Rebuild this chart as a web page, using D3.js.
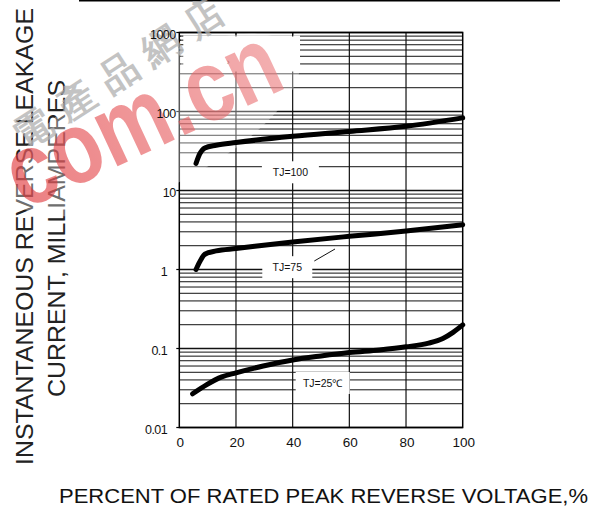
<!DOCTYPE html>
<html>
<head>
<meta charset="utf-8">
<script src="https://cdn.jsdelivr.net/npm/d3@7/dist/d3.min.js"></script>
<style>
body { margin: 0; background: #fff; }
text { font-family: "Liberation Sans", Arial, sans-serif; }
</style>
</head>
<body>
<div id="chart"></div>
<script>
// curve data (x = % of rated peak reverse voltage, y = mA)
var pct100 = [5.9, 7.2, 9, 13, 20, 40, 60, 80, 100],
    tj100 = [22, 29, 34.5, 37.4, 40.5, 48.5, 56, 65, 83];
var pct75 = [5.9, 7.2, 9, 13, 20, 40, 60, 80, 100],
    tj75 = [1.0, 1.25, 1.56, 1.72, 1.84, 2.23, 2.63, 3.07, 3.69];
var pct25 = [4.7, 9.7, 15, 20, 29.6, 40, 50, 60, 70.6, 80, 88, 93, 96.6, 100],
    tj25 = [0.0267, 0.0349, 0.0437, 0.0492, 0.06, 0.0716, 0.0805, 0.089, 0.096, 0.105, 0.117, 0.134, 0.16, 0.199];

var xTicks = [0, 20, 40, 60, 80, 100];
var yTicks = [0.01, 0.1, 1, 10, 100, 1000];
var yTickLabels = ["0.01", "0.1", "1", "10", "100", "1000"];
var curveNames = ["TJ=100", "TJ=75", "TJ=25\u2103"];
// label anchor points in data units
var labelPct = [39.2, 38.1, 50.6],
    labelVal = [17, 1.07, 0.0366];

var w = 605, h = 513;
var svg = d3.select("#chart").append("svg")
    .attr("width", w)
    .attr("height", h);

var x = d3.scaleLinear().domain([0, 100]).range([179.3, 462.7]);
var y = d3.scaleLog().domain([0.01, 1000]).range([427.5, 32.5]);

// top rule
svg.append("line")
    .attr("x1", 79).attr("x2", 560)
    .attr("y1", 0.8).attr("y2", 0.8)
    .attr("stroke", "#000").attr("stroke-width", 1.6);

// horizontal grid: every 1..9 of each decade
var gridVals = [];
yTicks.slice(0, 5).forEach(function (d) {
    for (let k = 1; k < 10; k++) gridVals.push(k * d);
});
gridVals.push(1000);

var grid = svg.append("g");
grid.selectAll("line.h")
    .data(gridVals)
    .enter().append("line")
    .attr("class", "h")
    .attr("x1", x(0)).attr("x2", x(100))
    .attr("y1", function (d) { return y(d); })
    .attr("y2", function (d) { return y(d); })
    .attr("stroke", "#111")
    .attr("stroke-width", function (d) {
        return yTicks.indexOf(+d.toPrecision(6)) >= 0 ? 1.4 : 1;
    });

grid.selectAll("line.v")
    .data(xTicks.slice(1, 5))
    .enter().append("line")
    .attr("class", "v")
    .attr("x1", function (d) { return x(d); })
    .attr("x2", function (d) { return x(d); })
    .attr("y1", y(1000)).attr("y2", y(0.01))
    .attr("stroke", "#111").attr("stroke-width", 1.2);

// blanked areas of the scan (top left box, label backgrounds)
svg.append("rect")
    .attr("x", 181).attr("y", 35.5)
    .attr("width", 119).attr("height", 36)
    .attr("fill", "#fff");

// small ticks left edge + top inside the blank box
svg.selectAll("line.lt")
    .data(gridVals.filter(function (d) { return d > 300 && d < 1000; }))
    .enter().append("line")
    .attr("x1", x(0)).attr("x2", x(0) + 4)
    .attr("y1", function (d) { return y(d); })
    .attr("y2", function (d) { return y(d); })
    .attr("stroke", "#111").attr("stroke-width", 1);
svg.selectAll("line.tt")
    .data([20, 40])
    .enter().append("line")
    .attr("x1", function (d) { return x(d); })
    .attr("x2", function (d) { return x(d); })
    .attr("y1", y(1000)).attr("y2", y(1000) + 4)
    .attr("stroke", "#111").attr("stroke-width", 1.2);

svg.append("text")
    .attr("x", 226.7).attr("y", 65)
    .attr("font-size", 9)
    .attr("fill", "#333")
    .text("\u203A");

// frame
svg.append("rect")
    .attr("x", x(0)).attr("y", y(1000))
    .attr("width", x(100) - x(0)).attr("height", y(0.01) - y(1000))
    .attr("fill", "none").attr("stroke", "#000").attr("stroke-width", 1.5);

// left ticks at decades
svg.selectAll("line.dt")
    .data(yTicks)
    .enter().append("line")
    .attr("x1", x(0) - 3).attr("x2", x(0))
    .attr("y1", function (d) { return y(d); })
    .attr("y2", function (d) { return y(d); })
    .attr("stroke", "#000").attr("stroke-width", 1.2);

// curve labels on white boxes
var boxW = [57, 50, 54];
var labels = svg.append("g");
curveNames.forEach(function (name, i) {
    var cx = x(labelPct[i]), cy = y(labelVal[i]);
    labels.append("rect")
        .attr("x", cx - boxW[i] / 2).attr("y", cy - 11)
        .attr("width", boxW[i]).attr("height", 22)
        .attr("fill", "#fff");
    labels.append("text")
        .attr("x", cx).attr("y", cy + 4)
        .attr("text-anchor", "middle")
        .attr("font-size", 10.5)
        .attr("fill", "#111")
        .text(name);
});
// leader for TJ=75
svg.append("line")
    .attr("x1", 314.3).attr("y1", 261)
    .attr("x2", 335).attr("y2", 249)
    .attr("stroke", "#111").attr("stroke-width", 1);

// axis titles
svg.append("text")
    .attr("x", 59).attr("y", 503)
    .attr("font-size", 21)
    .attr("textLength", 529)
    .attr("lengthAdjust", "spacingAndGlyphs")
    .attr("fill", "#111")
    .text("PERCENT OF RATED PEAK REVERSE VOLTAGE,%");

svg.append("text")
    .attr("transform", "translate(33,465) rotate(-90)")
    .attr("font-size", 24)
    .attr("textLength", 457)
    .attr("lengthAdjust", "spacingAndGlyphs")
    .attr("fill", "#222")
    .text("INSTANTANEOUS REVERSE LEAKAGE");

svg.append("text")
    .attr("transform", "translate(65,397) rotate(-90)")
    .attr("font-size", 24)
    .attr("textLength", 317)
    .attr("lengthAdjust", "spacingAndGlyphs")
    .attr("fill", "#222")
    .text("CURRENT, MILLIAMPERES");

// watermark of the scanned sheet (over grid and titles, under curves)
var wm = svg.append("g");
var grad = svg.append("defs").append("linearGradient")
    .attr("id", "wmGrad")
    .attr("x1", "0").attr("x2", "1").attr("y1", "0").attr("y2", "0");
grad.append("stop").attr("offset", "0").attr("stop-color", "#e02c30");
grad.append("stop").attr("offset", "1").attr("stop-color", "#ec7a7c");

wm.append("ellipse")
    .attr("transform", "translate(155,125) rotate(-27)")
    .attr("rx", 160).attr("ry", 62)
    .attr("fill", "#fff").attr("opacity", 0.35);

wm.append("text")
    .attr("transform", "translate(24,150) rotate(-33)")
    .attr("font-family", "'Noto Sans CJK SC', sans-serif")
    .attr("font-weight", "bold")
    .attr("font-size", 38)
    .attr("letter-spacing", 13)
    .attr("fill", "#b0b0b0")
    .attr("opacity", 0.75)
    .text("電產品網店");

wm.append("text")
    .attr("transform", "translate(24,210) rotate(-25)")
    .attr("font-size", 102)
    .attr("font-weight", "bold")
    .attr("textLength", 292)
    .attr("lengthAdjust", "spacingAndGlyphs")
    .attr("fill", "url(#wmGrad)")
    .attr("opacity", 0.6)
    .text("com.cn");

// curves
var series = [
    { xs: pct100, ys: tj100 },
    { xs: pct75, ys: tj75 },
    { xs: pct25, ys: tj25 }
];
var line = d3.line()
    .x(function (d) { return x(d[0]); })
    .y(function (d) { return y(d[1]); })
    .curve(d3.curveMonotoneX);

svg.selectAll("path.curve")
    .data(series)
    .enter().append("path")
    .attr("class", "curve")
    .attr("d", function (s) { return line(d3.zip(s.xs, s.ys)); })
    .attr("fill", "none")
    .attr("stroke", "#000")
    .attr("stroke-width", 5)
    .attr("stroke-linecap", "round")
    .attr("stroke-linejoin", "round");

// y tick labels
svg.selectAll("text.yt")
    .data(yTicks)
    .enter().append("text")
    .attr("class", "yt")
    .attr("x", function (d) { return d >= 10 ? 175.5 : 167; })
    .attr("y", function (d) { return y(d) + 6; })
    .attr("text-anchor", "end")
    .attr("font-size", 12.5)
    .attr("letter-spacing", -0.6)
    .attr("fill", "#111")
    .text(function (d, i) { return yTickLabels[i]; });

// x tick labels
svg.selectAll("text.xt")
    .data(xTicks)
    .enter().append("text")
    .attr("class", "xt")
    .attr("x", function (d) { return x(d) + 1; })
    .attr("y", 447)
    .attr("text-anchor", "middle")
    .attr("font-size", 13.5)
    .attr("fill", "#111")
    .text(function (d) { return d; });
</script>
</body>
</html>
